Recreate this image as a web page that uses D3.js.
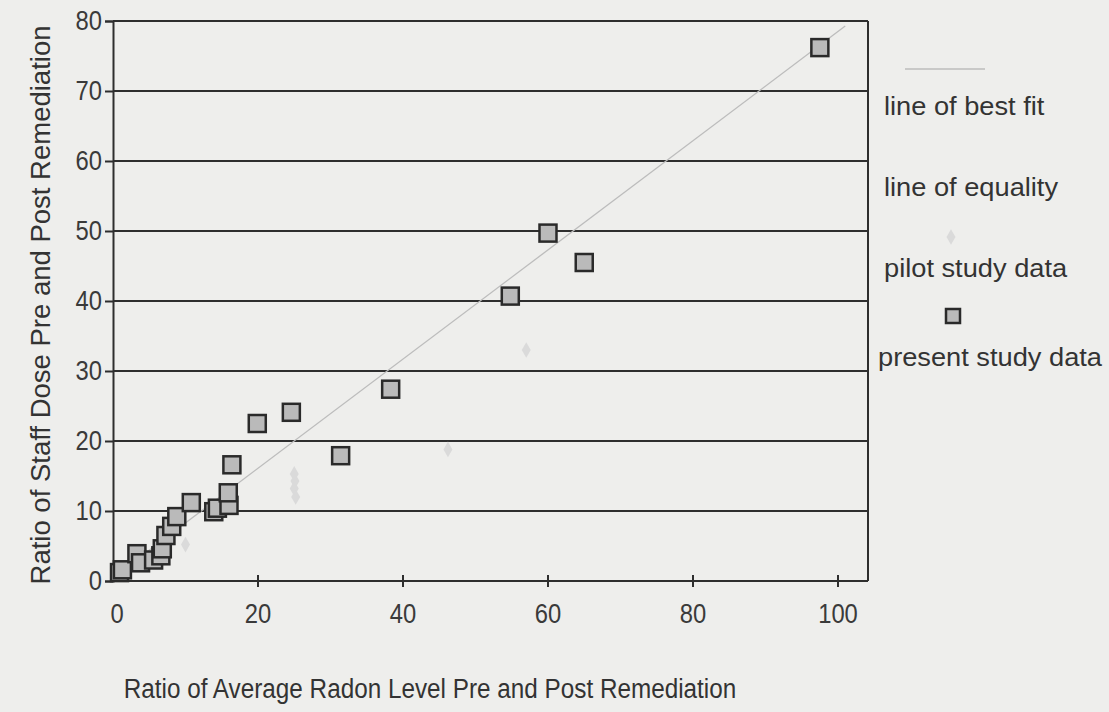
<!DOCTYPE html>
<html><head><meta charset="utf-8">
<script src="https://cdn.jsdelivr.net/npm/d3@7"></script>
<style>
body{margin:0;background:#eeeeec;}
svg{display:block;font-family:"Liberation Sans",Arial,sans-serif;}
</style>
</head><body>
<svg id="c" width="1109" height="712"></svg>
<script>
// ---- data ----
const xTicks = [0, 20, 40, 60, 80, 100];
const yTicks = [0, 10, 20, 30, 40, 50, 60, 70, 80];
const presentX = [0.9, 1.3, 3.3, 3.8, 5.6, 6.6, 6.8, 7.3, 8.1, 8.8, 10.8, 13.9, 14.4, 16.0, 15.9, 16.4, 19.9, 24.6, 31.4, 38.3, 54.8, 60.0, 65.0, 97.5];
const presentY = [1.2, 1.6, 3.9, 2.6, 3.0, 3.6, 4.6, 6.5, 7.8, 9.2, 11.2, 9.9, 10.4, 10.8, 12.6, 16.6, 22.5, 24.1, 17.9, 27.4, 40.7, 49.7, 45.5, 76.2];
const pilotX = [10.0, 25.0, 25.1, 25.0, 25.2, 46.2, 57.0];
const pilotY = [5.2, 15.3, 14.3, 13.2, 12.0, 18.8, 33.0];
const fitSlope = 0.78, fitIntercept = 0.5;
const fitXRange = [1, 101];
const legendLabels = ["line of best fit", "line of equality", "pilot study data", "present study data"];
const xTitle = "Ratio of Average Radon Level Pre and Post Remediation";
const yTitle = "Ratio of Staff Dose Pre and Post Remediation";

// ---- scales ----
const svg = d3.select("#c");
const x = d3.scaleLinear().domain([0, 104.14]).range([113, 868]);
const y = d3.scaleLinear().domain([0, 80]).range([581, 21]);
const ink = "#2e2e2e";

// gridlines (incl. top border at 80)
svg.append("g").selectAll("line").data(yTicks.filter(d => d > 0)).join("line")
  .attr("x1", x(0)).attr("x2", x.range()[1])
  .attr("y1", d => y(d)).attr("y2", d => y(d))
  .attr("stroke", ink).attr("stroke-width", 2);

// right border
svg.append("line").attr("x1", x.range()[1]).attr("x2", x.range()[1])
  .attr("y1", y(80)).attr("y2", y(0)).attr("stroke", ink).attr("stroke-width", 2);

// y axis
const yAxis = svg.append("g").attr("transform", `translate(${x(0)},0)`)
  .call(d3.axisLeft(y).tickValues(yTicks).tickSize(8).tickPadding(5).tickFormat(d3.format("d")));
yAxis.select(".domain").attr("stroke", ink).attr("stroke-width", 2);
yAxis.selectAll(".tick line").attr("stroke", ink).attr("stroke-width", 2);
yAxis.selectAll(".tick text").attr("fill", "#3a3a3a").style("font-size", "28px")
  .attr("transform", "scale(0.85,1)");

// x axis
const xAxis = svg.append("g").attr("transform", `translate(0,${y(0)})`);
xAxis.append("line").attr("x1", x(0)).attr("x2", x.range()[1]).attr("y1", 0).attr("y2", 0)
  .attr("stroke", ink).attr("stroke-width", 2);
xAxis.selectAll("line.tk").data(xTicks.filter(d => d > 0)).join("line").attr("class", "tk")
  .attr("x1", d => x(d)).attr("x2", d => x(d)).attr("y1", -6).attr("y2", 6)
  .attr("stroke", ink).attr("stroke-width", 2);
xAxis.selectAll("g.lb").data(xTicks).join("g").attr("class", "lb")
  .attr("transform", d => `translate(${x(d) + (d === 0 ? 4 : 0)},42)`)
  .append("text").attr("text-anchor", "middle").attr("fill", "#3a3a3a")
  .style("font-size", "28px").attr("transform", "scale(0.85,1)").text(d => d);

// line of best fit
svg.append("line")
  .attr("x1", x(fitXRange[0])).attr("y1", y(fitSlope * fitXRange[0] + fitIntercept))
  .attr("x2", x(fitXRange[1])).attr("y2", y(fitSlope * fitXRange[1] + fitIntercept))
  .attr("stroke", "#bcbcbc").attr("stroke-width", 1.3);

// pilot study data (faint diamonds)
const diamond = d3.symbol().type(d3.symbolDiamond).size(70);
svg.append("g").selectAll("path").data(pilotX.map((v, i) => [v, pilotY[i]])).join("path")
  .attr("d", diamond).attr("transform", d => `translate(${x(d[0])},${y(d[1])})`)
  .attr("fill", "#dadada").attr("stroke", "none");

// present study data (squares)
const s = 17;
svg.append("g").selectAll("rect").data(presentX.map((v, i) => [v, presentY[i]])).join("rect")
  .attr("x", d => x(d[0]) - s / 2).attr("y", d => y(d[1]) - s / 2)
  .attr("width", s).attr("height", s)
  .attr("fill", "#bababa").attr("stroke", "#2a2a2a").attr("stroke-width", 2.5);

// axis titles
svg.append("g").attr("transform", "translate(430,698)")
  .append("text").attr("text-anchor", "middle").attr("fill", "#333")
  .style("font-size", "27px").attr("transform", "scale(0.9,1)").text(xTitle);
svg.append("text").attr("transform", "translate(50,305) rotate(-90)")
  .attr("text-anchor", "middle").attr("fill", "#333").style("font-size", "27.5px").text(yTitle);

// legend
const leg = svg.append("g");
leg.append("line").attr("x1", 905).attr("x2", 985).attr("y1", 69).attr("y2", 69)
  .attr("stroke", "#bcbcbc").attr("stroke-width", 1.3);
leg.append("path").attr("d", diamond).attr("transform", "translate(951,237)").attr("fill", "#dadada");
leg.append("rect").attr("x", 946).attr("y", 309).attr("width", 14).attr("height", 14)
  .attr("fill", "#bababa").attr("stroke", "#2a2a2a").attr("stroke-width", 2.5);
const legPos = [[884, 115], [884, 196], [884, 277], [878, 366]];
leg.selectAll("g.lt").data(legendLabels).join("g").attr("class", "lt")
  .attr("transform", (d, i) => `translate(${legPos[i][0]},${legPos[i][1]})`)
  .append("text").attr("fill", "#333").style("font-size", "25px")
  .attr("transform", "scale(1.09,1)").text(d => d);
</script>
</body></html>
